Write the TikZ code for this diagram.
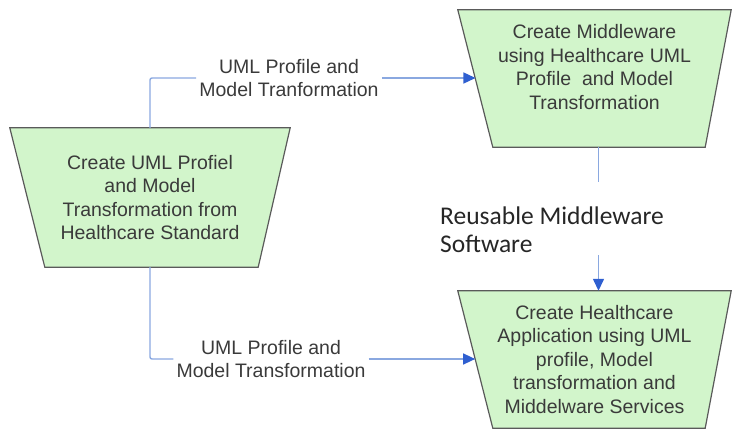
\documentclass[tikz,border=0pt]{standalone}
\usepackage{fontspec}
\setmainfont{Liberation Sans}
\newfontfamily\calibfont{Carlito}
\usetikzlibrary{arrows.meta,calc,backgrounds}
\definecolor{boxfill}{HTML}{D2F5CB}
\definecolor{boxline}{HTML}{5A5A5A}
\definecolor{edgeblue}{HTML}{8AA8E0}
\definecolor{headblue}{HTML}{2F5FD0}
\definecolor{txtgray}{HTML}{3A3A3A}
\begin{document}
\begin{tikzpicture}[x=1pt,y=-1pt,
  boxarea/.style={draw=none, inner sep=0pt, align=center, text=txtgray,
    font=\fontsize{19.5}{23.5}\selectfont, minimum width=#1},
  trap/.style={fill=boxfill, draw=boxline, line width=1.2pt},
  edgelabel/.style={inner xsep=3pt, inner ysep=0pt, align=center, text=txtgray,
    font=\fontsize{19.5}{23.5}\selectfont},
  conn/.style={draw=edgeblue, line width=1.4pt, rounded corners=2pt},
  arr/.style={conn, -{Triangle[length=12pt,width=11pt,color=headblue]}}
]
\useasboundingbox (0,0) rectangle (732,431);

% boxes (text areas = bounding boxes of the trapezoids)
\node[boxarea=280pt, minimum height=139pt] (b1) at (150,197.5)
  {Create UML Profiel\\and Model\\Transformation from\\Healthcare Standard};
\node[boxarea=273pt, minimum height=137pt] (b2) at (594.5,78.5)
  {Create Middleware\\using Healthcare UML\\Profile\ \ and Model\\Transformation\\ \mbox{}};
\node[boxarea=273pt, minimum height=137pt] (b3) at (594.5,359.5)
  {Create Healthcare\\Application using UML\\profile, Model\\transformation and\\Middelware Services};

\begin{pgfonlayer}{background}
  \draw[trap] (b1.north west) -- (b1.north east) -- ([xshift=-32pt]b1.south east)
    -- ([xshift=35pt]b1.south west) -- cycle;
  \draw[trap] (b2.north west) -- (b2.north east) -- ([xshift=-26pt]b2.south east)
    -- ([xshift=35pt]b2.south west) -- cycle;
  \draw[trap] (b3.north west) -- (b3.north east) -- ([xshift=-26pt]b3.south east)
    -- ([xshift=35pt]b3.south west) -- cycle;
\end{pgfonlayer}

% points on the slanted left sides
\coordinate (p2) at ($(b2.north west)!0.505!([xshift=35pt]b2.south west)$);
\coordinate (p3) at ($(b3.north west)!0.496!([xshift=35pt]b3.south west)$);

% edge labels
\node[edgelabel] (l1) at (289,78) {UML Profile and\\Model Tranformation};
\node[edgelabel] (l2) at (271,359) {UML Profile and\\Model Transformation};
\node[anchor=west, inner sep=0pt, align=left, text=black!85,
  font=\calibfont\fontsize{25.5}{28}\selectfont] (r) at (440,230)
  {Reusable Middleware\\Software};

% connectors
\draw[conn] (b1.north) |- (l1.west);
\draw[arr] (l1.east) -- (l1.east -| p2);
\draw[conn] (b1.south) |- (l2.west);
\draw[arr] (l2.east) -- (l2.east -| p3);
\coordinate (g1) at (598.5,182);
\coordinate (g2) at (598.5,255);
\draw[conn] (b2.south -| g1) -- (g1);
\draw[arr] (g2) -- (b3.north -| g2);
\end{tikzpicture}
\end{document}
